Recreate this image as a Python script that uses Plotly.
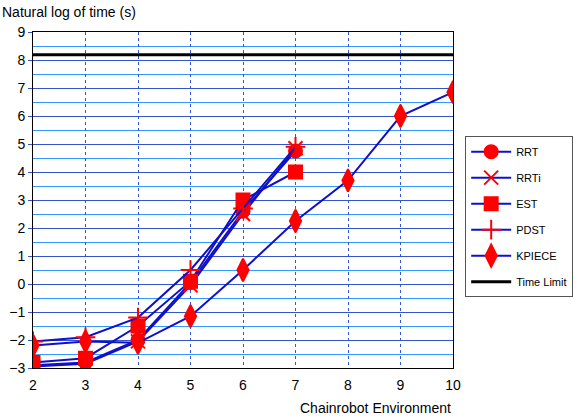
import plotly.graph_objects as go

envs = [2, 3, 4, 5, 6, 7]
kp_envs = [2, 3, 4, 5, 6, 7, 8, 9, 10]
rrt = [-2.9, -2.8, -2.0, 0.05, 2.6, 4.75]
rrti = [-2.95, -2.85, -2.05, -0.05, 2.5, 4.85]
est = [-2.8, -2.65, -1.5, 0.1, 3.0, 4.0]
pdst = [-2.05, -1.9, -1.2, 0.5, 2.7, 4.9]
kpiece = [-2.2, -2.05, -2.1, -1.15, 0.5, 2.25, 3.7, 6.0, 6.85]
time_limit = 8.19

line_color = "#1010c8"
fig = go.Figure()
series = [
    ("RRT", envs, rrt, "circle", 13),
    ("RRTi", envs, rrti, "x-thin", 14),
    ("EST", envs, est, "square", 13),
    ("PDST", envs, pdst, "cross-thin", 14),
    ("KPIECE", kp_envs, kpiece, "diamond-tall", 16),
]
for name, xs, ys, sym, sz in series:
    fig.add_trace(go.Scatter(
        x=xs, y=ys, name=name, mode="lines+markers", legendgroup=name,
        line=dict(color=line_color, width=2),
        marker=dict(symbol=sym, size=sz, color="red",
                    line=dict(color="red", width=2)),
    ))
fig.add_trace(go.Scatter(
    x=[2, 10], y=[time_limit, time_limit], name="Time Limit", mode="lines",
    legendgroup="tl", line=dict(color="black", width=3),
))

fig.update_layout(
    width=579, height=417,
    margin=dict(l=33, r=126, t=32, b=49, autoexpand=False),
    paper_bgcolor="white", plot_bgcolor="white",
    font=dict(family="Liberation Sans, Arial", size=13, color="black"),
    showlegend=True,
    legend=dict(x=1.029, y=0.69, xanchor="left", yanchor="top",
                bordercolor="#555555", borderwidth=1, traceorder="grouped",
                font=dict(size=11), itemwidth=40, tracegroupgap=7),
    annotations=[
        dict(text="Natural log of time (s)", x=0, y=1, xref="paper", yref="paper",
             xshift=-33, yshift=10, xanchor="left", yanchor="bottom",
             showarrow=False, font=dict(size=14)),
        dict(text="Chainrobot Environment", x=1, y=0, xref="paper", yref="paper",
             yshift=-30, xanchor="right", yanchor="top",
             showarrow=False, font=dict(size=14)),
    ],
)
fig.update_xaxes(
    range=[2, 10], tickvals=list(range(2, 11)), showgrid=True,
    gridcolor="#3355dd", griddash="dot", gridwidth=1,
    showline=True, linecolor="black", linewidth=1, mirror=True,
    ticks="", ticklabelstandoff=4, zeroline=False, tickfont=dict(size=14),
)
fig.update_yaxes(
    range=[-3, 9], tickvals=list(range(-3, 10)), showgrid=True,
    gridcolor="#3355cc", gridwidth=1,
    minor=dict(dtick=0.5, showgrid=True, gridcolor="#3399ff", gridwidth=1),
    showline=True, linecolor="black", linewidth=1, mirror=True,
    ticks="outside", ticklen=4, tickcolor="#3355cc",
    zeroline=False, tickfont=dict(size=14),
)
fig.write_html("out.html")
